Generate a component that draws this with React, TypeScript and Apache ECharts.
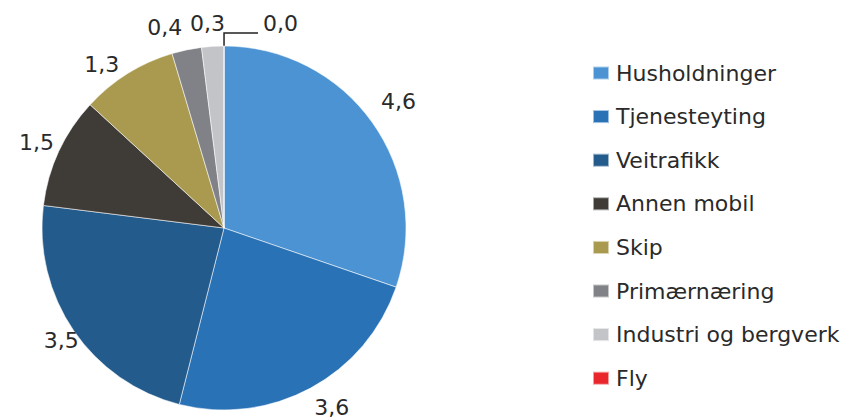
import React, { useEffect, useRef } from "react";
import * as echarts from "echarts";

// Legend / category order
const categories = [
  "Husholdninger",
  "Tjenesteyting",
  "Veitrafikk",
  "Annen mobil",
  "Skip",
  "Primærnæring",
  "Industri og bergverk",
  "Fly",
];
const values = [4.6, 3.6, 3.5, 1.5, 1.3, 0.4, 0.3, 0.0];
const colors = [
  "#4b93d2",
  "#2a72b6",
  "#235b8c",
  "#3f3b37",
  "#a99a4f",
  "#808287",
  "#c3c4c8",
  "#e8262b",
];

// small label nudges (style only), by category index, mimicking the original label placement
const labelNudge: Record<number, [number, number]> = {
  0: [-6, -14],
  1: [-7, 9],
  2: [20, 3],
  3: [11, -4],
  4: [3, 1],
  5: [3, -11],
  6: [18, -11],
  7: [0, -10],
};

const fmt = (v: number) => v.toFixed(1).replace(".", ",");

export default function App() {
  const ref = useRef<HTMLDivElement>(null);
  useEffect(() => {
    if (!ref.current) return;
    const chart = echarts.init(ref.current, null, { renderer: "svg" });
    const font = "'DejaVu Sans', sans-serif";
    const data = categories.map((name, i) => {
      const isZero = values[i] === 0;
      return {
        name,
        value: values[i],
        itemStyle: { color: colors[i] },
        labelLine: isZero
          ? { show: true, length: 13, length2: 34, lineStyle: { color: "#222", width: 1.5 } }
          : { show: false },
      };
    });
    chart.setOption({
      animation: false,
      backgroundColor: "#ffffff",
      legend: {
        orient: "vertical",
        left: 587,
        top: 57,
        itemWidth: 16,
        itemHeight: 13,
        itemGap: 21.6,
        icon: "rect",
        data: categories,
        textStyle: {
          fontFamily: font,
          fontSize: 22,
          lineHeight: 20,
          color: "#2a2a2a",
          padding: [0, 0, 0, 2],
        },
        selectedMode: false,
      },
      series: [
        {
          type: "pie",
          center: [224, 228],
          radius: 182,
          // a hair below 90 so the zero-size last slice falls just right of 12 o'clock
          startAngle: 89.99,
          clockwise: true,
          avoidLabelOverlap: false,
          minShowLabelAngle: 0,
          itemStyle: { borderColor: "rgba(255,255,255,0.55)", borderWidth: 1 },
          label: {
            show: true,
            position: "outside",
            formatter: (p: any) => fmt(p.value),
            fontFamily: font,
            fontSize: 22,
            color: "#2a2a2a",
          },
          labelLine: { show: false, length: 12, length2: 0 },
          labelLayout: (p: any) => {
            const n = labelNudge[p.dataIndex];
            const out: any = { hideOverlap: false };
            if (n) {
              out.dx = n[0];
              out.dy = n[1];
            }
            return out;
          },
          emphasis: { disabled: true },
          data,
        },
      ],
    });
    return () => chart.dispose();
  }, []);
  return (
    <div
      ref={ref}
      style={{ position: "fixed", left: 0, top: 0, width: 847, height: 419 }}
    />
  );
}
